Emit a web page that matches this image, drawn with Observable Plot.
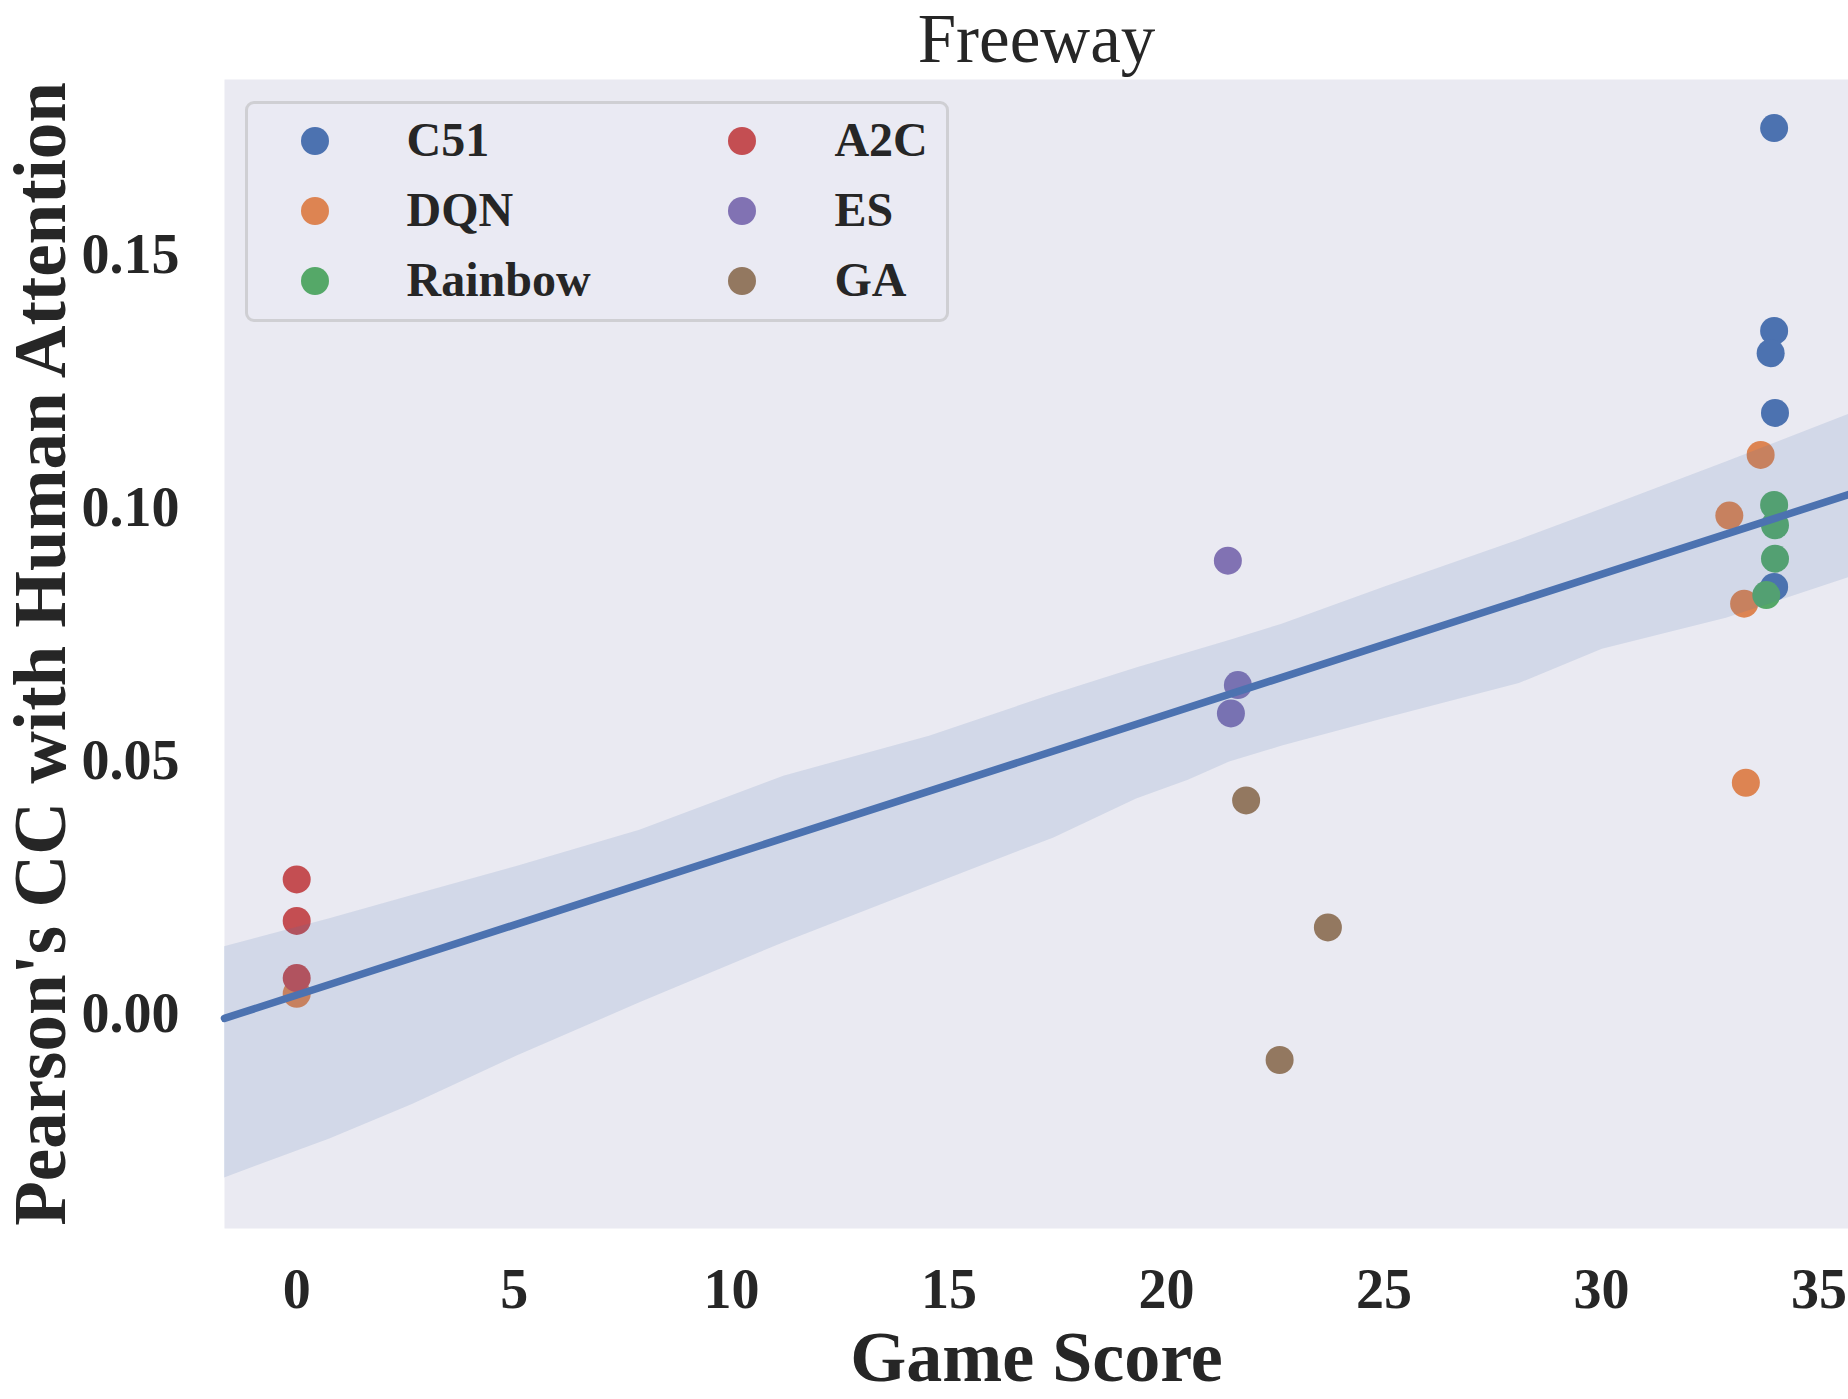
<!DOCTYPE html>
<html>
<head>
<meta charset="utf-8">
<script src="https://cdn.jsdelivr.net/npm/d3@7"></script>
<script src="https://cdn.jsdelivr.net/npm/@observablehq/plot@0.6"></script>
<style>
  html, body { margin: 0; padding: 0; background: #ffffff; }
  #wrap { position: relative; width: 1848px; height: 1399px; overflow: hidden;
          font-family: "Liberation Serif", "Times New Roman", serif; color: #262626; }
  #wrap svg { position: absolute; left: 0; top: 0; }
  #legend { position: absolute; left: 245px; top: 101px; width: 704px; height: 221px;
            box-sizing: border-box; border: 3px solid #cfcfd3; border-radius: 9px;
            background: rgba(234,234,242,0.8); }
  .item { position: absolute; height: 0; }
  .mk { position: absolute; width: 28px; height: 28px; border-radius: 50%; transform: translate(-14px,-14px); }
  .lb { position: absolute; font-weight: bold; font-size: 48px; line-height: 48px; transform: translateY(-25px); white-space: nowrap; }
</style>
</head>
<body>
<div id="wrap"><div id="legend"></div></div>
<script>
// ---- data ----
const seriesNames  = ["C51", "DQN", "Rainbow", "A2C", "ES", "GA"];
const seriesColors = ["#4C72B0", "#DD8452", "#55A868", "#C44E52", "#8172B3", "#937860"];

const c51Score     = [33.97, 33.97, 33.89, 33.99, 33.97];
const c51CC        = [0.1751, 0.1350, 0.1306, 0.1188, 0.0844];
const dqnScore     = [33.66, 32.94, 33.28, 33.32, 0.0];
const dqnCC        = [0.1105, 0.0985, 0.0811, 0.0457, 0.0040];
const rainbowScore = [33.97, 33.99, 33.99, 33.79];
const rainbowCC    = [0.1006, 0.0966, 0.0900, 0.0828];
const a2cScore     = [0.0, 0.0, 0.0];
const a2cCC        = [0.0266, 0.0184, 0.0071];
const esScore      = [21.41, 21.64, 21.48];
const esCC         = [0.0896, 0.0650, 0.0594];
const gaScore      = [21.83, 23.71, 22.60];
const gaCC         = [0.0422, 0.0171, -0.0091];

// bootstrap confidence band
const bandScore = [-1.66, 0.76, 2.66, 5.04, 7.89, 11.2, 14.55, 17.41, 19.31, 20.5, 21.45, 22.64, 25.02, 28.11, 30.02, 32.87, 35.68];
const bandUpper = [0.0133, 0.0188, 0.0234, 0.0291, 0.0363, 0.0470, 0.0549, 0.0632, 0.0684, 0.0714, 0.0738, 0.0770, 0.0844, 0.0937, 0.0998, 0.1091, 0.1185];
const bandLower = [-0.0324, -0.0247, -0.0179, -0.0084, 0.0022, 0.0141, 0.0253, 0.0348, 0.0425, 0.0462, 0.0498, 0.0529, 0.0584, 0.0653, 0.0721, 0.0782, 0.0862];

const xTicks = [0, 5, 10, 15, 20, 25, 30, 35];
const yTicks = [0.00, 0.05, 0.10, 0.15];
const xDomain = [-1.66, 35.68];
const yDomain = [-0.0424, 0.1847];

const titleText = "Freeway";
const xLabel = "Game Score";
const yLabel = "Pearson's CC with Human Attention";

// ---- build tables ----
const scoreArrays = [c51Score, dqnScore, rainbowScore, a2cScore, esScore, gaScore];
const ccArrays    = [c51CC, dqnCC, rainbowCC, a2cCC, esCC, gaCC];
const points = [];
seriesNames.forEach((s, i) => {
  scoreArrays[i].forEach((x, j) => points.push({series: s, score: x, cc: ccArrays[i][j]}));
});
const band = bandScore.map((x, i) => ({score: x, lo: bandLower[i], hi: bandUpper[i]}));

// least-squares fit
const mx = d3.mean(points, d => d.score), my = d3.mean(points, d => d.cc);
const sxy = d3.sum(points, d => (d.score - mx) * (d.cc - my));
const sxx = d3.sum(points, d => (d.score - mx) ** 2);
const slope = sxy / sxx, intercept = my - slope * mx;
const fit = xDomain.map(x => ({score: x, cc: intercept + slope * x}));

const chart = Plot.plot({
  width: 1848, height: 1399,
  marginLeft: 224, marginRight: 0, marginTop: 79, marginBottom: 171,
  style: {background: "transparent", fontFamily: "'Liberation Serif', 'Times New Roman', serif", color: "#262626", overflow: "visible"},
  x: {domain: xDomain},
  y: {domain: yDomain},
  color: {domain: seriesNames, range: seriesColors},
  marks: [
    Plot.frame({fill: "#EAEAF2", stroke: null}),
    Plot.dot(points, {x: "score", y: "cc", fill: "series", r: 14}),
    Plot.area(band, {x1: "score", y1: "lo", y2: "hi", fill: "#4C72B0", fillOpacity: 0.15}),
    Plot.line(fit, {x: "score", y: "cc", stroke: "#4C72B0", strokeWidth: 7.5}),
    Plot.axisX({ticks: xTicks, tickSize: 0, tickPadding: 40, fontSize: 56, fontWeight: "bold", label: null, tickFormat: d3.format("d")}),
    Plot.axisY({ticks: yTicks, tickSize: 0, tickPadding: 45, fontSize: 56, fontWeight: "bold", label: null, tickFormat: d3.format(".2f")}),
    Plot.text([titleText], {text: d => d, frameAnchor: "top", dy: -40, fontSize: 69, textAnchor: "middle", lineAnchor: "middle"}),
    Plot.text([xLabel], {text: d => d, frameAnchor: "bottom", dy: 129, fontSize: 72, fontWeight: "bold", textAnchor: "middle", lineAnchor: "middle"}),
    Plot.text([yLabel], {text: d => d, frameAnchor: "left", dx: -183, rotate: -90, fontSize: 73, fontWeight: "bold", textAnchor: "middle", lineAnchor: "middle"})
  ]
});
document.getElementById("wrap").prepend(chart);

// legend (two columns, column-major like matplotlib)
const legend = document.getElementById("legend");
seriesNames.forEach((s, i) => {
  const col = Math.floor(i / 3), row = i % 3;
  const item = document.createElement("div");
  item.className = "item";
  item.style.left = (col * 427.8) + "px";
  item.style.top = (37.4 + row * 69.6) + "px";
  const mk = document.createElement("div");
  mk.className = "mk";
  mk.style.left = "66.7px";
  mk.style.background = seriesColors[i];
  const lb = document.createElement("div");
  lb.className = "lb";
  lb.style.left = "158.6px";
  lb.textContent = s;
  item.appendChild(mk); item.appendChild(lb);
  legend.appendChild(item);
});
</script>
</body>
</html>
